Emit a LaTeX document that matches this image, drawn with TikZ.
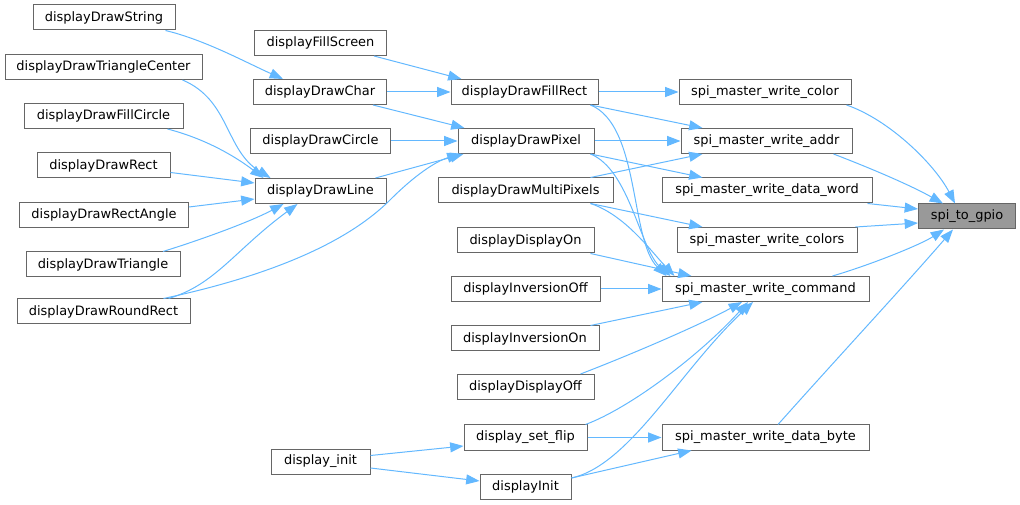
\documentclass[tikz,border=0pt]{standalone}
\usepackage{fontspec}
\setmainfont{DejaVu Sans}
\usetikzlibrary{arrows.meta,calc}
\definecolor{edgeblue}{HTML}{63B8FF}
\definecolor{boxgray}{HTML}{666666}
\definecolor{hlgray}{HTML}{999999}
\begin{document}
\begin{tikzpicture}[x=0.75pt,y=-0.75pt,
  fn/.style={draw=boxgray,fill=white,line width=0.75pt,minimum height=18.75pt,inner sep=1pt,
    font=\fontsize{9.7}{11}\selectfont,minimum width=#1},
  hl/.style={fn=#1,fill=hlgray},
  ed/.style={draw=edgeblue,line width=0.75pt,-{Triangle[length=10pt,width=7.5pt]}}]
\useasboundingbox (0,0) rectangle (1020,505);
% left column
\node[fn=106.5pt]  (dStr)   at (104,17.5)   {displayDrawString};
\node[fn=147.75pt] (dTriC)  at (103.5,67)   {displayDrawTriangleCenter};
\node[fn=119.25pt] (dFCir)  at (103.5,116)  {displayDrawFillCircle};
\node[fn=99.75pt]  (dRect)  at (103.5,165.5){displayDrawRect};
\node[fn=126.75pt] (dRAng)  at (104,215)    {displayDrawRectAngle};
\node[fn=115.5pt]  (dTri)   at (103,264.5)  {displayDrawTriangle};
\node[fn=129.75pt] (dRRect) at (103.5,311.5){displayDrawRoundRect};
% second column
\node[fn=99pt]     (dFScr)  at (320.5,43)   {displayFillScreen};
\node[fn=99.75pt]  (dChar)  at (320,92)     {displayDrawChar};
\node[fn=105pt]    (dCir)   at (320.5,141)  {displayDrawCircle};
\node[fn=98.25pt]  (dLine)  at (320.5,191)  {displayDrawLine};
\node[fn=74.25pt]  (dinit)  at (320.5,461.5){display\_init};
% third column
\node[fn=110.25pt] (dFRect) at (524.5,92)   {displayDrawFillRect};
\node[fn=102pt]    (dPix)   at (526,141)    {displayDrawPixel};
\node[fn=131.25pt] (dMPix)  at (525.5,190.5){displayDrawMultiPixels};
\node[fn=102.75pt] (dOn)    at (525.5,240.5){displayDisplayOn};
\node[fn=111.75pt] (dIOff)  at (525.5,289)  {displayInversionOff};
\node[fn=111pt]    (dIOn)   at (525,338.5)  {displayInversionOn};
\node[fn=102.75pt] (dOff)   at (525.5,387)  {displayDisplayOff};
\node[fn=92.25pt]  (dFlip)  at (525.5,437.5){display\_set\_flip};
\node[fn=68.25pt]  (dInit)  at (525.5,487)  {displayInit};
% fourth column
\node[fn=129pt]    (wCol)   at (765,92)     {spi\_master\_write\_color};
\node[fn=128.25pt] (wAddr)  at (766.5,141)  {spi\_master\_write\_addr};
\node[fn=157.5pt]  (wWord)  at (767,190.5)  {spi\_master\_write\_data\_word};
\node[fn=135pt]    (wCols)  at (767,240)    {spi\_master\_write\_colors};
\node[fn=155.25pt] (wCmd)   at (765.5,289)  {spi\_master\_write\_command};
\node[fn=155.25pt] (wByte)  at (765.5,437.5){spi\_master\_write\_data\_byte};
% target
\node[hl=72.75pt]  (gpio)   at (967,216.5)  {spi\_to\_gpio};

% edges into displayDrawChar / FillRect / Pixel
\draw[ed] ($(dStr.south east)+(-10,0)$) .. controls (205,40) and (245,62) .. ($(dChar.north)+(-37,0)$);
\draw[ed] ($(dFScr.south east)+(-13,0)$) -- ($(dFRect.north west)+(11,0)$);
\draw[ed] (dChar.east) -- (dFRect.west);
\draw[ed] ($(dChar.south east)+(-14,0)$) -- ($(dPix.north west)+(7,0)$);
\draw[ed] (dCir.east) -- (dPix.west);
\draw[ed] ($(dLine.north east)+(-11,0)$) -- ($(dPix.south west)+(6,0)$);
\draw[ed] ($(dRRect.north)+(60,0)$) .. controls (250,280) and (340,250) .. (390,200)
          .. controls (420,170) and (440,160) .. ($(dPix.south west)+(3,0)$);
% edges into displayDrawLine
\draw[ed] ($(dTriC.south east)+(-20,0)$) .. controls (230,100) and (225,150) .. ($(dLine.north)+(-50,0)$);
\draw[ed] ($(dFCir.south east)+(-16,0)$) .. controls (210,140) and (240,160) .. ($(dLine.north)+(-57,0)$);
\draw[ed] ($(dRect.east)+(0,7)$) -- ($(dLine.west)+(0,-8)$);
\draw[ed] ($(dRAng.east)+(0,-8)$) -- ($(dLine.west)+(0,8)$);
\draw[ed] ($(dTri.north)+(60,0)$) .. controls (200,240) and (250,222) .. ($(dLine.south)+(-37,0)$);
\draw[ed] ($(dRRect.north)+(65,0)$) .. controls (215,285) and (235,250) .. ($(dLine.south)+(-23,0)$);
% edges into the spi_master_write_* column
\draw[ed] (dFRect.east) -- (wCol.west);
\draw[ed] ($(dFRect.south east)+(-8,0)$) -- ($(wAddr.north west)+(22,0)$);
\draw[ed] ($(dFRect.south east)+(-8,0)$) .. controls (640,125) and (630,240) .. ($(wCmd.north west)+(5,0)$);
\draw[ed] (dPix.east) -- (wAddr.west);
\draw[ed] ($(dPix.south east)+(-4,0)$) -- ($(wWord.north west)+(41,0)$);
\draw[ed] ($(dPix.south east)+(-4,0)$) .. controls (630,170) and (640,250) .. ($(wCmd.north west)+(9,0)$);
\draw[ed] ($(dMPix.north east)+(-23,0)$) -- ($(wAddr.south west)+(22,0)$);
\draw[ed] ($(dMPix.south east)+(-23,0)$) -- ($(wCols.north west)+(26,0)$);
\draw[ed] ($(dMPix.south east)+(-23,0)$) .. controls (625,215) and (650,250) .. ($(wCmd.north west)+(13,0)$);
\draw[ed] ($(dOn.south east)+(-4,0)$) -- ($(wCmd.north west)+(30,0)$);
\draw[ed] (dIOff.east) -- (wCmd.west);
\draw[ed] ($(dIOn.north east)+(-9,0)$) -- ($(wCmd.south west)+(41,0)$);
\draw[ed] ($(dOff.north east)+(-14,0)$) .. controls (630,355) and (700,325) .. ($(wCmd.south)+(-23.5,0)$);
\draw[ed] ($(dFlip.north east)+(-2,0)$) .. controls (630,408) and (700,355) .. ($(wCmd.south)+(-17.5,0)$);
\draw[ed] (dFlip.east) -- (wByte.west);
\draw[ed] ($(dInit.east)+(0,-9)$) .. controls (630,465) and (680,370) .. ($(wCmd.south)+(-12.5,0)$);
\draw[ed] ($(dInit.east)+(0,-9)$) -- ($(wByte.south west)+(30,0)$);
% display_init
\draw[ed] ($(dinit.east)+(0,-6)$) -- ($(dFlip.west)+(0,8.5)$);
\draw[ed] ($(dinit.east)+(0,6.5)$) -- ($(dInit.west)+(0,-6)$);
% edges into spi_to_gpio
\draw[ed] ($(wCol.south east)+(-5,0)$) .. controls (890,120) and (935,165) .. ($(gpio.north)+(-12,0)$);
\draw[ed] ($(wAddr.south east)+(-19,0)$) .. controls (870,168) and (910,185) .. ($(gpio.north)+(-24,0)$);
\draw[ed] ($(wWord.south east)+(-5,0)$) -- ($(gpio.west)+(0,-7.5)$);
\draw[ed] ($(wCols.north east)+(-2,0)$) -- ($(gpio.west)+(0,6.5)$);
\draw[ed] ($(wCmd.north east)+(-37,0)$) .. controls (870,265) and (920,245) .. ($(gpio.south)+(-23,0)$);
\draw[ed] ($(wByte.north)+(12.5,0)$) .. controls (840,355) and (905,285) .. ($(gpio.south)+(-14,0)$);
\end{tikzpicture}
\end{document}
